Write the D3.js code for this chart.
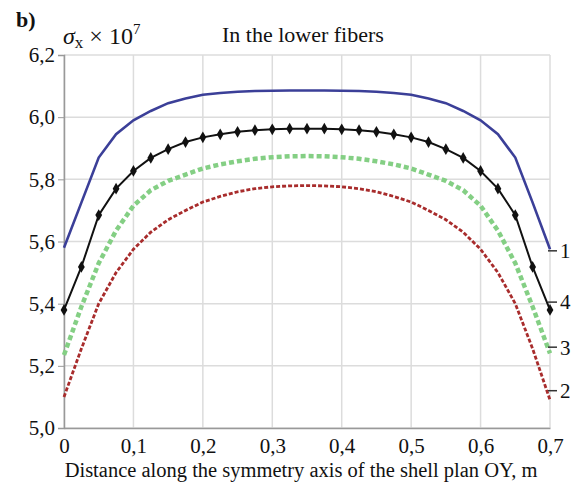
<!DOCTYPE html>
<html>
<head>
<meta charset="utf-8">
<script src="https://cdn.jsdelivr.net/npm/d3@7"></script>
<style>
  body { margin: 0; background: #fff; }
  text { font-family: "Liberation Serif", "Times New Roman", serif; fill: #111; }
</style>
</head>
<body>
<svg width="582" height="488"></svg>
<script>
// distance along OY, m (step 0.025)
let xs = [0, 0.025, 0.05, 0.075, 0.1, 0.125, 0.15, 0.175, 0.2, 0.225, 0.25, 0.275, 0.3, 0.325, 0.35,
          0.375, 0.4, 0.425, 0.45, 0.475, 0.5, 0.525, 0.55, 0.575, 0.6, 0.625, 0.65, 0.675, 0.7];

// sigma_x * 1e-7 for each curve
let curve1 = [5.58, 5.725, 5.87, 5.945, 5.99, 6.02, 6.045, 6.06, 6.072, 6.078, 6.082, 6.084, 6.085, 6.086, 6.086,
              6.086, 6.085, 6.084, 6.082, 6.078, 6.072, 6.06, 6.045, 6.02, 5.99, 5.945, 5.87, 5.725, 5.575];
let curve2 = [5.10, 5.255, 5.40, 5.50, 5.575, 5.63, 5.67, 5.70, 5.727, 5.745, 5.76, 5.77, 5.776, 5.779, 5.78,
              5.779, 5.776, 5.77, 5.76, 5.745, 5.727, 5.70, 5.67, 5.63, 5.575, 5.50, 5.40, 5.255, 5.09];
let curve3 = [5.235, 5.39, 5.53, 5.635, 5.715, 5.765, 5.795, 5.815, 5.835, 5.848, 5.858, 5.866, 5.871, 5.874, 5.875,
              5.874, 5.871, 5.866, 5.858, 5.848, 5.835, 5.815, 5.795, 5.765, 5.715, 5.635, 5.53, 5.39, 5.24];
let curve4 = [5.38, 5.518, 5.685, 5.77, 5.827, 5.869, 5.897, 5.92, 5.935, 5.945, 5.953, 5.958, 5.961, 5.963, 5.963,
              5.963, 5.961, 5.958, 5.953, 5.945, 5.935, 5.92, 5.897, 5.869, 5.827, 5.77, 5.685, 5.518, 5.38];

let xTicks = [0, 0.1, 0.2, 0.3, 0.4, 0.5, 0.6, 0.7];
let yTicks = [5.0, 5.2, 5.4, 5.6, 5.8, 6.0, 6.2];
let curveLabels = ['1', '2', '3', '4'];

let svg = d3.select('svg');
let mLeft = 64, mRight = 550, mTop = 55, mBottom = 428;

let x = d3.scaleLinear().domain([0, 0.7]).range([mLeft, mRight]);
let y = d3.scaleLinear().domain([5.0, 6.2]).range([mBottom, mTop]);
let fmt = (d) => d3.format('.1f')(d).replace('.', ',');

// grid
let grid = svg.append('g');
grid.selectAll('line.v')
  .data(xTicks)
  .enter().append('line')
    .attr('x1', (d) => x(d)).attr('x2', (d) => x(d))
    .attr('y1', mTop).attr('y2', mBottom)
    .attr('stroke', '#dcdcdc').attr('stroke-width', 1.5);
grid.selectAll('line.h')
  .data(yTicks)
  .enter().append('line')
    .attr('x1', mLeft).attr('x2', mRight)
    .attr('y1', (d) => y(d)).attr('y2', (d) => y(d))
    .attr('stroke', '#dcdcdc').attr('stroke-width', 1.5);

// axes
let yAxis = svg.append('g')
    .attr('transform', `translate(${mLeft},0)`)
    .call(d3.axisLeft(y).tickValues(yTicks).tickFormat(fmt).tickSize(6).tickPadding(3));
yAxis.select('.domain').attr('stroke', '#999').attr('stroke-width', 1.5);
yAxis.selectAll('.tick line').attr('stroke', '#999');
yAxis.selectAll('text')
    .style('font-size', '21px')
    .style('font-family', '"Liberation Serif", serif')
    .style('fill', '#111');

let xAxis = svg.append('g')
    .attr('transform', `translate(0,${mBottom})`)
    .call(d3.axisBottom(x).tickValues(xTicks).tickFormat((d) => d === 0 ? '0' : fmt(d)).tickSize(0).tickPadding(10));
xAxis.select('.domain').attr('stroke', '#999').attr('stroke-width', 1.5);
xAxis.selectAll('text')
    .style('font-size', '21px')
    .style('font-family', '"Liberation Serif", serif')
    .style('fill', '#111');

// curves
let line = d3.line()
    .x((d) => x(d[0]))
    .y((d) => y(d[1]));
let pts = (vals) => xs.map((v, i) => [v, vals[i]]);

svg.append('path').datum(pts(curve2))
    .attr('d', line).attr('fill', 'none')
    .attr('stroke', '#a82c2c').attr('stroke-width', 2.8).attr('stroke-dasharray', '4,2');
svg.append('path').datum(pts(curve3))
    .attr('d', line).attr('fill', 'none')
    .attr('stroke', '#84cf84').attr('stroke-width', 4.5).attr('stroke-dasharray', '5,3');
svg.append('path').datum(pts(curve4))
    .attr('d', line).attr('fill', 'none')
    .attr('stroke', '#111').attr('stroke-width', 2);
svg.append('g').selectAll('path')
  .data(pts(curve4))
  .enter().append('path')
    .attr('transform', (d) => `translate(${x(d[0])},${y(d[1])})`)
    .attr('d', d3.symbol(d3.symbolDiamond, 40))
    .attr('fill', '#111');
svg.append('path').datum(pts(curve1))
    .attr('d', line).attr('fill', 'none')
    .attr('stroke', '#3b3f98').attr('stroke-width', 2.6);

// curve numbers at right end
let ends = [curve1, curve2, curve3, curve4].map((c, i) => ({ label: curveLabels[i], v: c[c.length - 1] }));
let labelPos = { '1': 5.57, '2': 5.12, '3': 5.26, '4': 5.405 };
let lab = svg.append('g');
lab.selectAll('line')
  .data(ends)
  .enter().append('line')
    .attr('x1', x(0.7) - 2).attr('x2', x(0.7) + 7)
    .attr('y1', (d) => y(labelPos[d.label])).attr('y2', (d) => y(labelPos[d.label]))
    .attr('stroke', '#333').attr('stroke-width', 1.5);
lab.selectAll('text')
  .data(ends)
  .enter().append('text')
    .attr('x', x(0.7) + 10)
    .attr('y', (d) => y(labelPos[d.label]))
    .attr('dy', '.35em')
    .style('font-size', '21px')
    .text((d) => d.label);

// titles
svg.append('text').attr('x', 16).attr('y', 27).style('font-size', '22px').style('font-weight', 'bold').text('b)');
let st = svg.append('text').attr('x', 63).attr('y', 44).style('font-size', '24px');
st.append('tspan').style('font-style', 'italic').text('σ');
st.append('tspan').style('font-size', '17px').attr('dy', 4).text('x');
st.append('tspan').attr('dy', -4).text(' × 10');
st.append('tspan').style('font-size', '15px').attr('dy', -10).text('7');
svg.append('text').attr('x', 222).attr('y', 42).style('font-size', '22px').text('In the lower fibers');
svg.append('text').attr('x', 301).attr('y', 477).attr('text-anchor', 'middle').style('font-size', '20.5px')
    .text('Distance along the symmetry axis of the shell plan OY, m');
</script>
</body>
</html>
